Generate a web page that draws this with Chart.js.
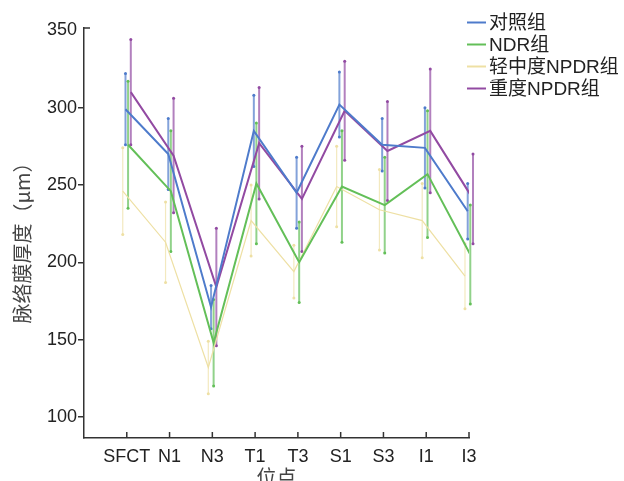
<!DOCTYPE html>
<html>
<head>
<meta charset="utf-8">
<script src="https://cdn.jsdelivr.net/npm/chart.js@4"></script>
<style>
  html, body { margin: 0; padding: 0; background: #fff; }
  #wrap { width: 624px; height: 481px; }
</style>
</head>
<body>
<div id="wrap"><canvas id="chart" width="624" height="481"></canvas></div>
<script>
// site labels along the x axis
const sites = ['SFCT', 'N1', 'N3', 'T1', 'T3', 'S1', 'S3', 'I1', 'I3']
const yTicks = [100, 150, 200, 250, 300, 350]

// means and SD (μm)
const ctrlMean = [299, 270, 171, 285, 245, 302, 276, 274, 233]
const ctrlSd   = [23, 23, 14, 23, 23, 21, 17, 26, 18]
const ndrMean  = [276, 246, 148, 251, 200, 249, 237, 257, 205]
const ndrSd    = [41, 39, 28, 39, 26, 36, 31, 41, 32]
const mildMean = [246, 213, 132, 227, 194, 249, 234, 227, 191]
const mildSd   = [28, 26, 17, 23, 17, 26, 26, 24, 21]
const sevMean  = [310, 269, 184, 277, 241, 298, 272, 285, 241]
const sevSd    = [34, 37, 38, 36, 34, 32, 32, 40, 29]

const groups = [
  { label: '对照组', mean: ctrlMean, sd: ctrlSd, color: '#4e7bcb', width: 2, dx: -0.03 },
  { label: 'NDR组', mean: ndrMean, sd: ndrSd, color: '#63bf58', width: 2, dx: 0.03 },
  { label: '轻中度NPDR组', mean: mildMean, sd: mildSd, color: '#eee0a4', width: 1.2, dx: -0.094 },
  { label: '重度NPDR组', mean: sevMean, sd: sevSd, color: '#924aa2', width: 2, dx: 0.094 }
]

const fontLatin = '"Liberation Sans", Arial, "Noto Sans CJK SC", sans-serif'
const fontCjk = '"Noto Sans CJK SC", "Liberation Sans", sans-serif'

function hexAlpha(hex, a) {
  const n = parseInt(hex.slice(1), 16)
  return `rgba(${n >> 16 & 255}, ${n >> 8 & 255}, ${n & 255}, ${a})`
}

// error bars drawn behind the lines, through the chart scales
const errorBars = {
  id: 'errorBars',
  beforeDatasetsDraw(chart) {
    const ctx = chart.ctx
    const y = chart.scales.y
    chart.data.datasets.forEach((ds, di) => {
      const g = groups[di]
      const meta = chart.getDatasetMeta(di)
      meta.data.forEach((pt, i) => {
        const top = y.getPixelForValue(g.mean[i] + g.sd[i])
        const bot = y.getPixelForValue(g.mean[i] - g.sd[i])
        ctx.save()
        ctx.strokeStyle = hexAlpha(g.color, 0.7)
        ctx.lineWidth = g.width
        ctx.beginPath()
        ctx.moveTo(pt.x, top)
        ctx.lineTo(pt.x, bot)
        ctx.stroke()
        ctx.fillStyle = g.color
        ;[top, bot].forEach(yy => {
          ctx.beginPath()
          ctx.arc(pt.x, yy, 1.5, 0, Math.PI * 2)
          ctx.fill()
        })
        ctx.restore()
      })
    })
  }
}

// inward x ticks, axis titles and the legend
const decorations = {
  id: 'decorations',
  afterDraw(chart) {
    const ctx = chart.ctx
    const x = chart.scales.x
    const area = chart.chartArea
    ctx.save()
    ctx.strokeStyle = '#333'
    ctx.lineWidth = 1.5
    x.ticks.forEach(t => {
      const px = x.getPixelForValue(t.value)
      ctx.beginPath()
      ctx.moveTo(px, area.bottom)
      ctx.lineTo(px, area.bottom - 6)
      ctx.stroke()
    })
    // little inward tick at the top of the y axis
    ctx.beginPath()
    ctx.moveTo(area.left, area.top)
    ctx.lineTo(area.left + 6, area.top)
    ctx.stroke()

    ctx.fillStyle = '#444'
    ctx.textAlign = 'center'
    ctx.textBaseline = 'middle'
    ctx.font = '20px ' + fontCjk
    ctx.fillText('位点', (area.left + area.right) / 2, 477)

    ctx.save()
    ctx.translate(22, 238)
    ctx.rotate(-Math.PI / 2)
    ctx.fillText('脉络膜厚度（μm）', 0, 0)
    ctx.restore()

    // legend
    ctx.textAlign = 'left'
    ctx.font = '19px ' + fontLatin
    ctx.fillStyle = '#222'
    groups.forEach((g, i) => {
      const yy = 22.5 + i * 22
      ctx.strokeStyle = g.color
      ctx.lineWidth = 2
      ctx.beginPath()
      ctx.moveTo(467, yy)
      ctx.lineTo(486, yy)
      ctx.stroke()
      ctx.fillText(g.label, 489, yy + 1)
    })
    ctx.restore()
  }
}

const datasets = groups.map(g => ({
  label: g.label,
  data: sites.map((s, i) => ({ x: i + g.dx, y: g.mean[i] })),
  borderColor: g.color,
  backgroundColor: g.color,
  borderWidth: g.width,
  pointRadius: 0,
  tension: 0,
  fill: false
}))

new Chart(document.getElementById('chart'), {
  type: 'line',
  data: { datasets: datasets },
  options: {
    responsive: false,
    animation: false,
    layout: { padding: { left: 0, right: 155, top: 28, bottom: 0 } },
    plugins: { legend: { display: false }, tooltip: { enabled: false } },
    scales: {
      x: {
        type: 'linear',
        min: -1,
        max: 8,
        afterBuildTicks: s => { s.ticks = sites.map((n, i) => ({ value: i })) },
        afterFit: s => { s.height = 43 },
        grid: { display: false, drawTicks: false },
        border: { color: '#333', width: 1.5 },
        ticks: {
          padding: 8,
          color: '#222',
          maxRotation: 0,
          minRotation: 0,
          autoSkip: false,
          font: { size: 18, family: fontLatin },
          callback: v => sites[v]
        }
      },
      y: {
        min: 86.4,
        max: 351.5,
        afterBuildTicks: s => { s.ticks = yTicks.map(v => ({ value: v })) },
        afterFit: s => { s.width = 84 },
        grid: {
          drawOnChartArea: false,
          tickLength: 6,
          color: c => c.tick && c.tick.value == 350 ? 'rgba(0,0,0,0)' : '#333',
          lineWidth: 1.5
        },
        border: { color: '#333', width: 1.5 },
        ticks: {
          padding: 1,
          color: '#222',
          font: { size: 18, family: fontLatin }
        }
      }
    }
  },
  plugins: [errorBars, decorations]
})
</script>
</body>
</html>
